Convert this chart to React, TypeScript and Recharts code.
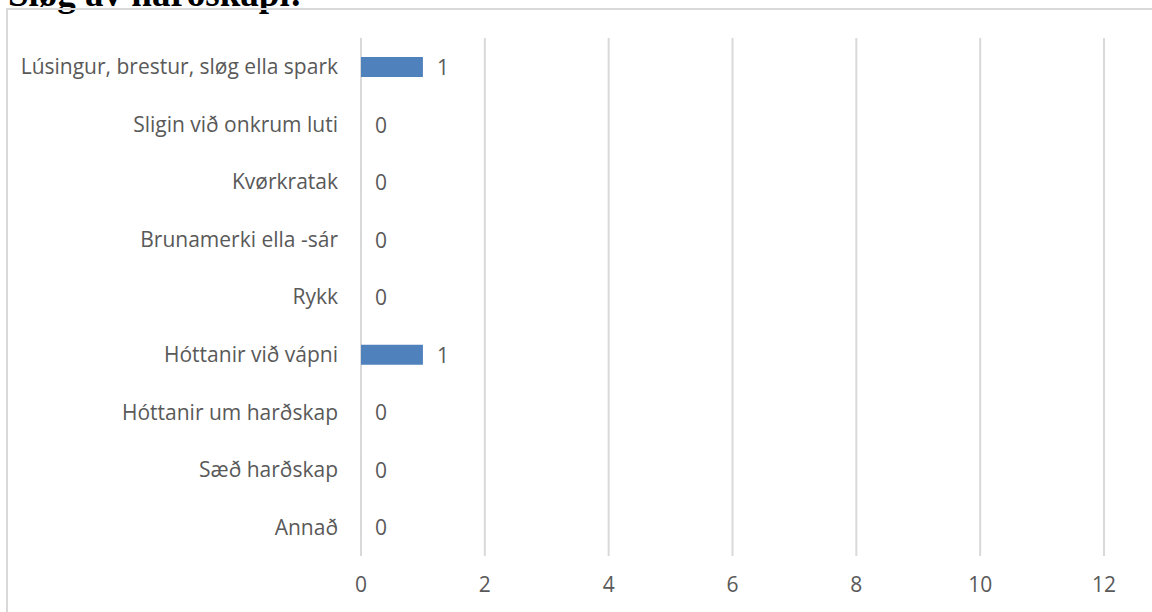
import React from "react";
import { BarChart, Bar, XAxis, YAxis, CartesianGrid, LabelList } from "recharts";

const categories = [
  "Lúsingur, brestur, sløg ella spark",
  "Sligin við onkrum luti",
  "Kvørkratak",
  "Brunamerki ella -sár",
  "Rykk",
  "Hóttanir við vápni",
  "Hóttanir um harðskap",
  "Sæð harðskap",
  "Annað",
];
const values = [1, 0, 0, 0, 0, 1, 0, 0, 0];
const xTicks = [0, 2, 4, 6, 8, 10, 12];
const title = "Sløg av harðskapi:";

const data = categories.map((name, i) => ({ name, value: values[i] }));

const FONT = "'Open Sans', sans-serif";
const TEXT = "#595959";
const FS = 21;

const ValueLabel = (props: any) => {
  const { x, y, width, height, value } = props;
  const w = Number(width || 0) < 1 ? 0 : Number(width);
  const xx = Number(x) + w + 14;
  const yy = Number(y) + Number(height || 0) / 2;
  return (
    <text x={xx} y={yy} fill={TEXT} fontSize={FS} fontFamily={FONT} textAnchor="start" dominantBaseline="central">
      {value}
    </text>
  );
};

export default function App() {
  return (
    <div style={{ position: "absolute", left: 0, top: 0, width: 1152, height: 612, overflow: "hidden", background: "#fff" }}>
      <div
        style={{
          position: "absolute",
          left: 8,
          top: -25,
          fontFamily: "'Liberation Serif', 'Times New Roman', serif",
          fontWeight: "bold",
          fontSize: 37,
          lineHeight: 1,
          whiteSpace: "nowrap",
          color: "#000",
        }}
      >
        {title}
      </div>
      <div
        style={{
          position: "absolute",
          left: 6,
          top: 8,
          width: 1300,
          height: 800,
          border: "2px solid #d9d9d9",
          boxSizing: "border-box",
        }}
      />
      <div style={{ position: "absolute", left: 0, top: 0 }}>
        <BarChart
          width={1152}
          height={612}
          data={data}
          layout="vertical"
          margin={{ top: 38, right: 48, bottom: 0, left: 0 }}
          barCategoryGap={0}
        >
          <CartesianGrid horizontal={false} stroke="#d9d9d9" strokeWidth={2} />
          <XAxis
            type="number"
            domain={[0, 12]}
            ticks={xTicks}
            axisLine={false}
            tickLine={false}
            tickSize={0}
            tickMargin={21}
            height={56}
            interval={0}
            tick={{ fill: TEXT, fontSize: FS, fontFamily: FONT }}
          />
          <YAxis
            type="category"
            dataKey="name"
            width={361}
            axisLine={false}
            tickLine={false}
            tickSize={0}
            tickMargin={23}
            interval={0}
            tick={{ fill: TEXT, fontSize: FS, fontFamily: FONT }}
          />
          <Bar dataKey="value" fill="#4F81BD" barSize={20} minPointSize={0.01} isAnimationActive={false}>
            <LabelList dataKey="value" content={ValueLabel} />
          </Bar>
        </BarChart>
      </div>
    </div>
  );
}
